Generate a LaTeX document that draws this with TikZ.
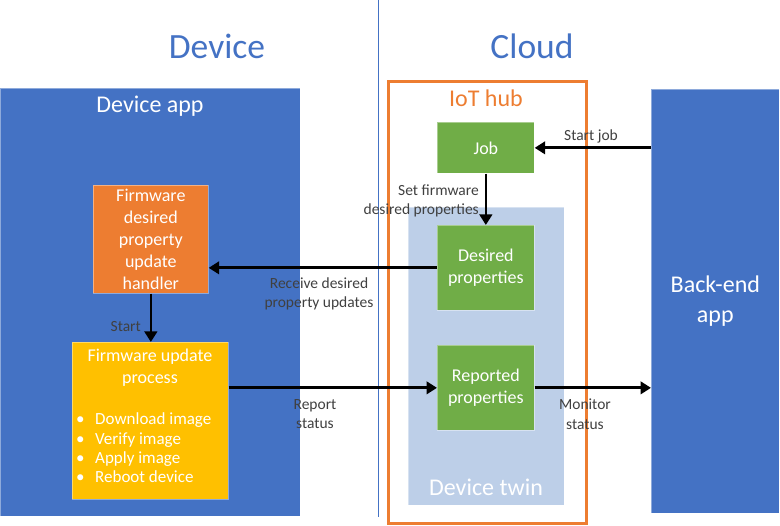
\documentclass[tikz,border=0pt]{standalone}
\usepackage{fontspec}
\setmainfont{Carlito}
\usetikzlibrary{arrows.meta}
\definecolor{cblue}{HTML}{4472C4}
\definecolor{corange}{HTML}{ED7D31}
\definecolor{cgold}{HTML}{FFC000}
\definecolor{cgreen}{HTML}{70AD47}
\definecolor{ctwin}{RGB}{189,207,232}
\definecolor{clabel}{HTML}{404040}
\begin{document}
\begin{tikzpicture}[x=1pt,y=-1pt,
  region/.style={inner sep=0pt, anchor=north west, draw=white, draw opacity=0.4, line width=0.7pt},
  box/.style={region, align=center, text=white, font=\fontsize{18}{21.8}\selectfont},
  big/.style={font=\fontsize{24}{30}\selectfont, inner sep=0pt, align=center},
  bigtitle/.style={font=\fontsize{35.5}{42}\selectfont, inner sep=0pt, text=cblue},
  lbl/.style={text=clabel, font=\fontsize{15.5}{19.5}\selectfont, align=center, inner sep=0pt},
  arr/.style={line width=2.7pt, -{Triangle[length=10.5pt,width=12.5pt]}}]
\useasboundingbox (0,0) rectangle (780,526);
% titles and divider
\node[bigtitle] (devT) at (217,46) {Device};
\node[bigtitle] (cloudT) at (532,46) {Cloud};
\coordinate (dtop) at (378,0);
\coordinate (dbot) at (378,517);
\draw[cblue, line width=0.8pt] (dtop) -- (dbot);
% device side
\node[region, fill=cblue, minimum width=300, minimum height=428] (devapp) at (0,88) {};
\node[big, text=white] (devappT) at (150,106) {Device app};
\node[box, fill=corange, minimum width=115, minimum height=108] (handler) at (93,185)
  {Firmware\\desired\\property\\update\\handler};
\node[region, fill=cgold, minimum width=156, minimum height=157] (process) at (72,342) {};
\node[box, draw=none, fill=none, anchor=center] (procT) at (150,368) {Firmware update\\process};
\node[text=white, font=\fontsize{17}{19.4}\selectfont, align=left, inner sep=0pt, anchor=west] (procL) at (76,448)
  {\makebox[19pt][l]{\textbullet}Download image\\
   \makebox[19pt][l]{\textbullet}Verify image\\
   \makebox[19pt][l]{\textbullet}Apply image\\
   \makebox[19pt][l]{\textbullet}Reboot device};
% cloud side
\node[draw=corange, line width=3pt, minimum width=198, minimum height=442, inner sep=0pt, anchor=north west] (hub) at (386.5,80.5) {};
\node[big, text=corange] (hubT) at (486,98) {IoT hub};
\node[region, fill=ctwin, minimum width=156, minimum height=298] (twin) at (408,207) {};
\node[big, text=white] (twinT) at (486,487) {Device twin};
\node[box, fill=cgreen, minimum width=97, minimum height=51] (job) at (437,122) {Job};
\node[box, fill=cgreen, minimum width=97, minimum height=85] (desired) at (437,225) {Desired\\properties};
\node[box, fill=cgreen, minimum width=97, minimum height=85] (reported) at (437,345) {Reported\\properties};
\node[region, fill=cblue, minimum width=128, minimum height=424, big, text=white] (backend) at (651,89) {Back-end\\app};
% connectors
\draw[arr] (backend.west |- job.east) -- (job.east);
\draw[arr] (job.south) -- (desired.north);
\draw[arr] (desired.west) -- (handler.east |- desired.west);
\draw[arr] (handler.south) -- (handler.south |- process.north);
\draw[arr] (process.east |- reported.west) -- (reported.west);
\draw[arr] (reported.east) -- (backend.west |- reported.east);
% labels
\node[lbl] (l1) at (591,136) {Start job};
\node[lbl, align=right, anchor=east] (l2) at (479,201) {Set firmware\\desired properties};
\node[lbl] (l3) at (319,294) {Receive desired\\property updates};
\node[lbl, anchor=east] (l4) at (141,327) {Start};
\node[lbl] (l5) at (315,414) {Report\\status};
\node[lbl] (l6) at (585,414) {Monitor\\status};
\end{tikzpicture}
\end{document}
